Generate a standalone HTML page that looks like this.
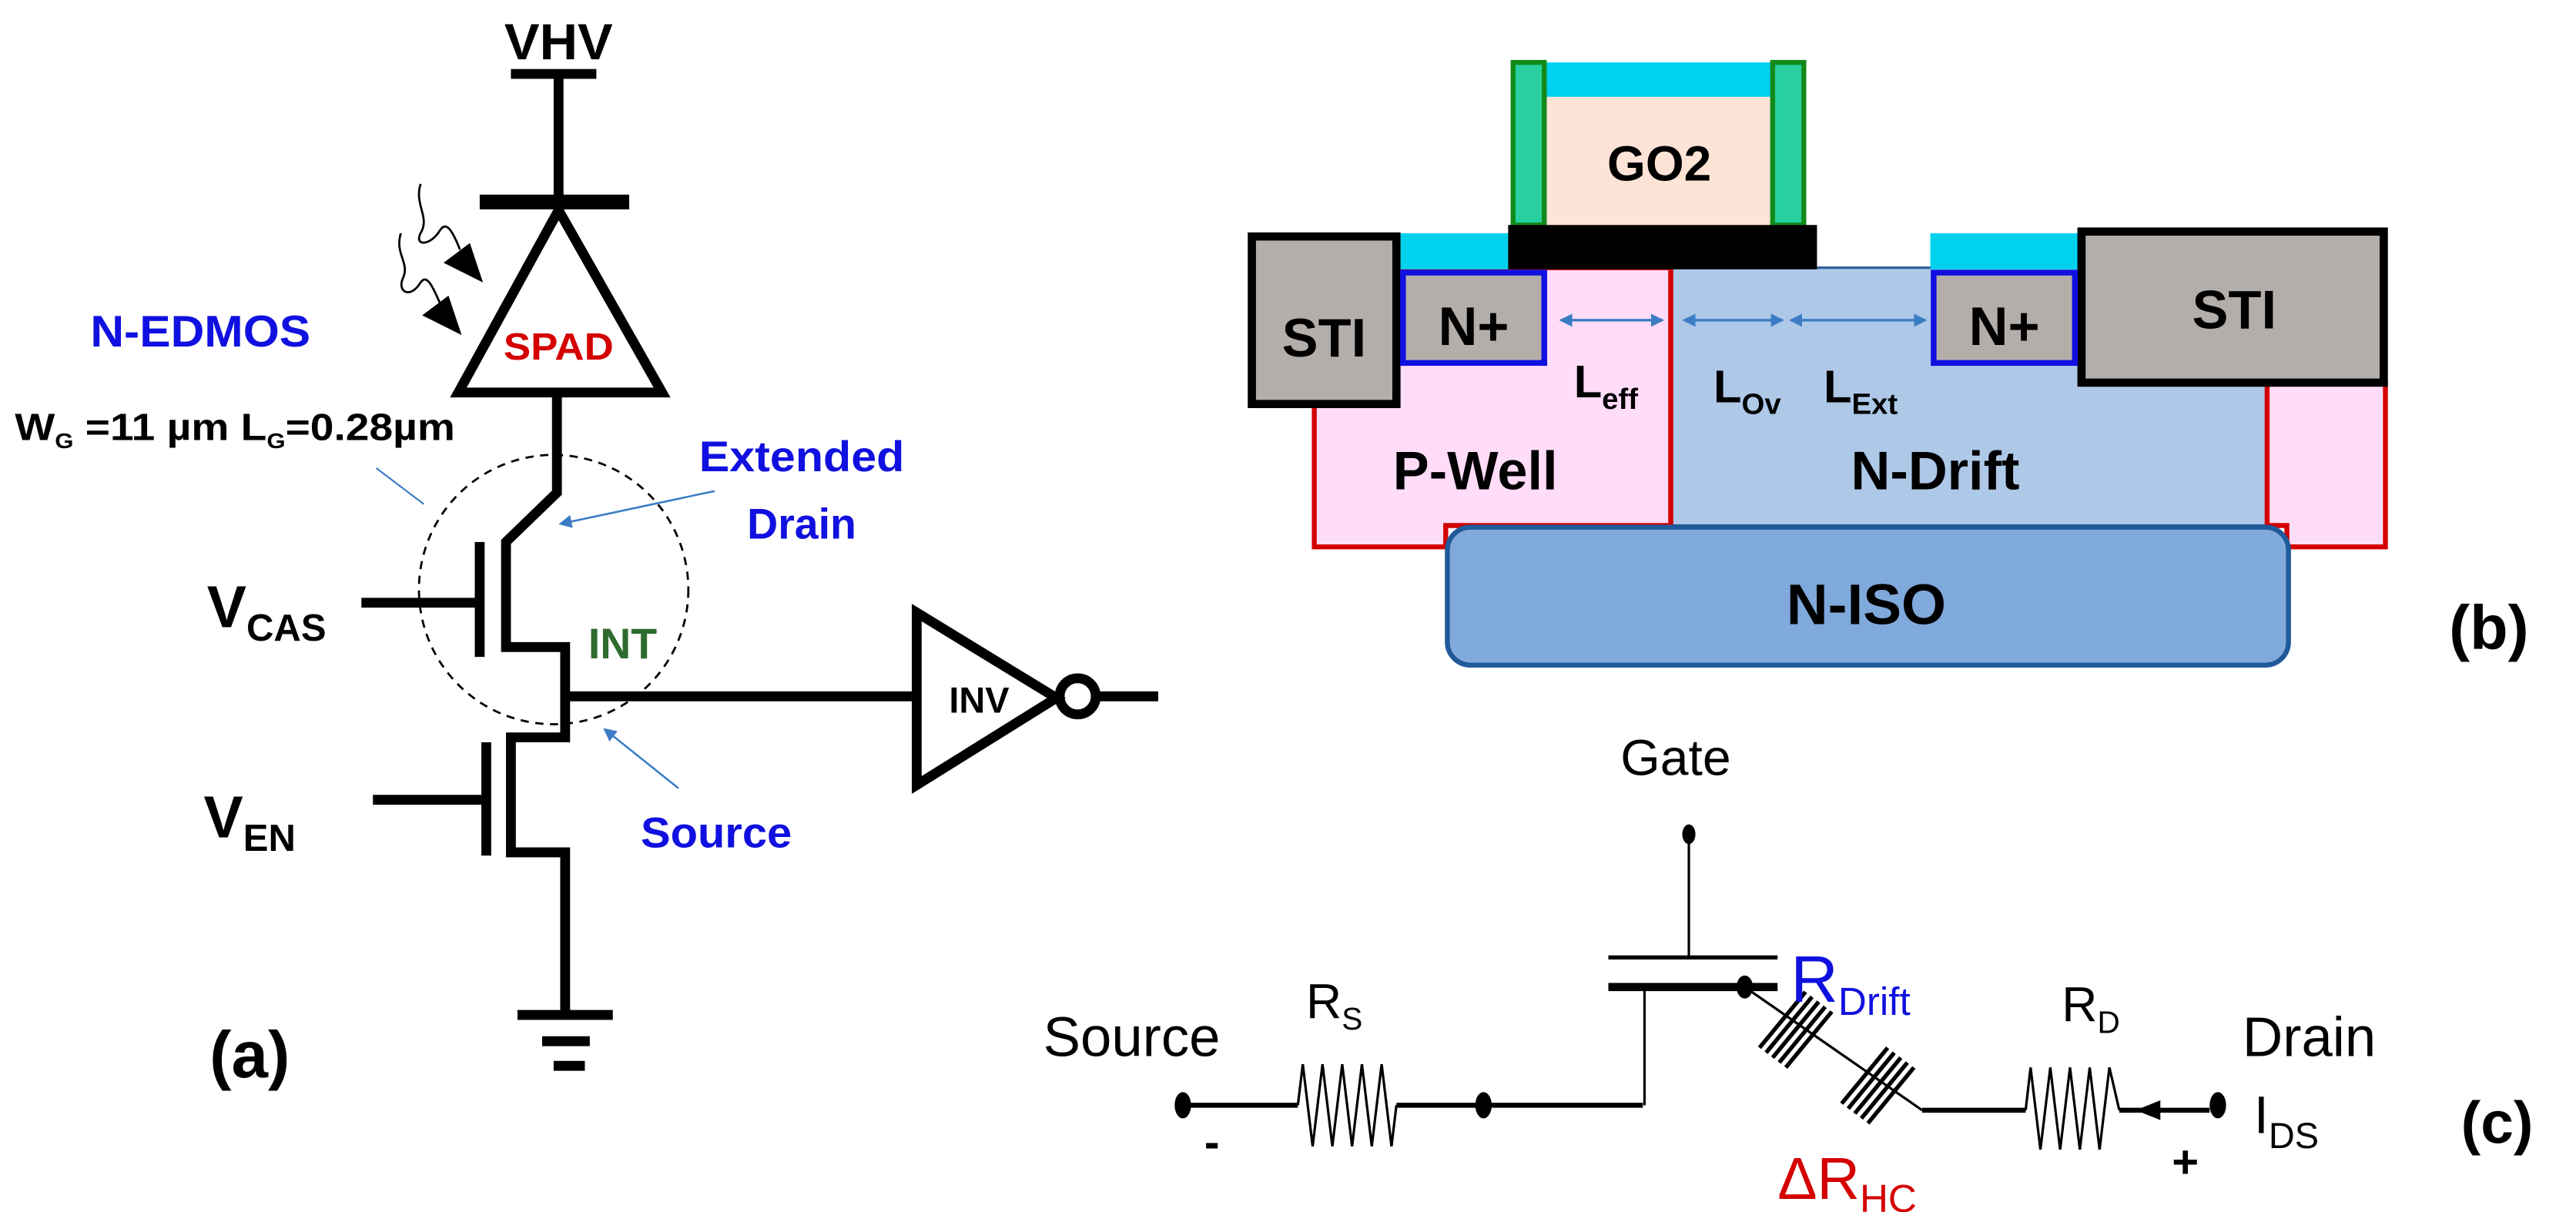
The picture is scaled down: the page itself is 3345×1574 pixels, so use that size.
<!DOCTYPE html>
<html><head><meta charset="utf-8"><style>html,body{margin:0;padding:0;background:#fff}svg{display:block}</style></head>
<body>
<svg width="3345" height="1574" viewBox="0 0 1568 738" preserveAspectRatio="none" xmlns="http://www.w3.org/2000/svg" font-family="Liberation Sans, sans-serif">
<defs>
<marker id="ab" markerWidth="8" markerHeight="8" refX="7" refY="4" orient="auto" markerUnits="userSpaceOnUse"><path d="M0,0 L8,4 L0,8 z" fill="#3b7cc4"/></marker>
</defs>
<!-- Panel (a) -->
<g font-weight="bold">
<text x="340" y="36" font-size="31" text-anchor="middle" textLength="66" lengthAdjust="spacingAndGlyphs">VHV</text>
<g stroke="#000" stroke-width="6" fill="none" stroke-linecap="butt">
<line x1="311" y1="45" x2="363" y2="45"/>
<line x1="340" y1="45" x2="340" y2="120"/>
<line x1="292" y1="123" x2="383" y2="123" stroke-width="9"/>
<path d="M340,128 L279,239 L403,239 Z" stroke-linejoin="miter"/>
<path d="M339,241 L339,300 L308,330 L308,394 L344,394 L344,449 L311,449 L311,519 L344,519 L344,617"/>
<line x1="292" y1="330" x2="292" y2="400"/>
<line x1="220" y1="367" x2="289" y2="367"/>
<line x1="296" y1="452" x2="296" y2="521"/>
<line x1="227" y1="487" x2="293" y2="487"/>
<line x1="344" y1="424" x2="555" y2="424"/>
<path d="M558,373 L558,478 L643,425 Z"/>
<circle cx="656" cy="424" r="11"/>
<line x1="667" y1="424" x2="705" y2="424"/>
<line x1="315" y1="618" x2="373" y2="618"/>
<line x1="330" y1="634" x2="359" y2="634"/>
<line x1="337" y1="649" x2="356" y2="649"/>
</g>
<circle cx="337" cy="359" r="82" fill="none" stroke="#000" stroke-width="1.3" stroke-dasharray="5,4"/>
<!-- light -->
<g fill="none" stroke="#000" stroke-width="1.3">
<path d="M256,112 C252,125 262,132 256,142 C252,150 262,150 268,140 C272,134 276,142 280,152"/>
<path d="M244,142 C240,155 250,160 245,170 C242,178 250,182 256,172 C260,166 264,176 268,185"/>
</g>
<path d="M270,160 L294,172 L286,148 Z" fill="#000"/>
<path d="M257,192 L281,204 L273,180 Z" fill="#000"/>
<text x="340" y="219" font-size="23" fill="#d40000" text-anchor="middle" textLength="67" lengthAdjust="spacingAndGlyphs">SPAD</text>
<text x="122" y="211" font-size="27" fill="#1010e0" text-anchor="middle" textLength="134" lengthAdjust="spacingAndGlyphs">N-EDMOS</text>
<text x="9" y="268" font-size="23" textLength="268" lengthAdjust="spacingAndGlyphs">W<tspan font-size="13" dy="5">G</tspan><tspan dy="-5"> =11 µm L</tspan><tspan font-size="13" dy="5">G</tspan><tspan dy="-5">=0.28µm</tspan></text>
<line x1="229" y1="285" x2="258" y2="307" stroke="#3b7cc4" stroke-width="1"/>
<text x="488" y="287" font-size="26" fill="#1010e0" text-anchor="middle" textLength="125" lengthAdjust="spacingAndGlyphs">Extended</text>
<text x="488" y="328" font-size="26" fill="#1010e0" text-anchor="middle">Drain</text>
<line x1="435" y1="299" x2="341" y2="319" stroke="#3b7cc4" stroke-width="1.2" marker-end="url(#ab)"/>
<text x="379" y="401" font-size="26" fill="#2e6b2e" text-anchor="middle">INT</text>
<line x1="413" y1="480" x2="368" y2="444" stroke="#3b7cc4" stroke-width="1.2" marker-end="url(#ab)"/>
<text x="436" y="516" font-size="26" fill="#1010e0" text-anchor="middle" textLength="92" lengthAdjust="spacingAndGlyphs">Source</text>
<text x="596" y="434" font-size="22" text-anchor="middle">INV</text>
<text x="126" y="382" font-size="36">V<tspan font-size="23" dy="8">CAS</tspan></text>
<text x="124" y="510" font-size="36">V<tspan font-size="23" dy="8">EN</tspan></text>
<text x="152" y="656" font-size="40" text-anchor="middle">(a)</text>
</g>
<!-- Panel (b) -->
<g font-weight="bold">
<path d="M800,163 L1017,163 L1017,320 L880,320 L880,333 L800,333 Z" fill="#ffdcf8" stroke="#d40000" stroke-width="3"/>
<rect x="1017" y="163" width="363" height="157" fill="#aec8e8" stroke="#2f5f9a" stroke-width="1.5"/>
<line x1="1017" y1="163" x2="1017" y2="320" stroke="#d40000" stroke-width="3"/>
<path d="M1380,232 L1452,232 L1452,333 L1392,333 L1392,320 L1380,320 Z" fill="#ffdcf8" stroke="#d40000" stroke-width="3"/>
<rect x="881" y="321" width="512" height="84" rx="14" fill="#80a9dc" stroke="#1f5a9a" stroke-width="3"/>
<rect x="852" y="142" width="68" height="22" fill="#00d2ee"/>
<rect x="1175" y="142" width="90" height="22" fill="#00d2ee"/>
<rect x="762" y="144" width="88" height="102" fill="#b4aeab" stroke="#000" stroke-width="5"/>
<rect x="1267" y="141" width="184" height="92" fill="#b4aeab" stroke="#000" stroke-width="5"/>
<rect x="854" y="166" width="86" height="55" fill="#b4aeab" stroke="#1010e0" stroke-width="3.5"/>
<rect x="1177" y="166" width="86" height="55" fill="#b4aeab" stroke="#1010e0" stroke-width="3.5"/>
<rect x="940" y="38" width="138" height="21" fill="#00d2ee"/>
<rect x="940" y="59" width="138" height="79" fill="#fde4d6"/>
<rect x="921" y="38" width="19" height="99" fill="#28d0a0" stroke="#128a1a" stroke-width="3"/>
<rect x="1079" y="38" width="19" height="99" fill="#28d0a0" stroke="#128a1a" stroke-width="3"/>
<rect x="918" y="137" width="188" height="27" fill="#000"/>
<text x="1010" y="110" font-size="30" text-anchor="middle">GO2</text>
<text x="806" y="217" font-size="33" text-anchor="middle">STI</text>
<text x="1360" y="200" font-size="33" text-anchor="middle">STI</text>
<text x="897" y="210" font-size="33" text-anchor="middle">N+</text>
<text x="1220" y="210" font-size="33" text-anchor="middle">N+</text>
<g stroke="#3b7cc4" stroke-width="1.5" marker-end="url(#ab)">
<line x1="950" y1="195" x2="1012" y2="195"/>
<line x1="1012" y1="195" x2="950" y2="195"/>
<line x1="1025" y1="195" x2="1085" y2="195"/>
<line x1="1085" y1="195" x2="1025" y2="195"/>
<line x1="1090" y1="195" x2="1172" y2="195"/>
<line x1="1172" y1="195" x2="1090" y2="195"/>
</g>
<text x="958" y="242" font-size="28">L<tspan font-size="18" dy="7">eff</tspan></text>
<text x="1043" y="245" font-size="28">L<tspan font-size="18" dy="7">Ov</tspan></text>
<text x="1110" y="245" font-size="28">L<tspan font-size="18" dy="7">Ext</tspan></text>
<text x="898" y="298" font-size="33" text-anchor="middle">P-Well</text>
<text x="1178" y="298" font-size="33" text-anchor="middle">N-Drift</text>
<text x="1136" y="380" font-size="35" text-anchor="middle">N-ISO</text>
<text x="1515" y="395" font-size="38" text-anchor="middle">(b)</text>
</g>
<!-- Panel (c) -->
<g>
<text x="1020" y="472" font-size="31" text-anchor="middle">Gate</text>
<line x1="1028" y1="508" x2="1028" y2="583" stroke="#000" stroke-width="1.5"/>
<ellipse cx="1028" cy="508" rx="4" ry="6" fill="#000"/>
<line x1="979" y1="583" x2="1082" y2="583" stroke="#000" stroke-width="2.5"/>
<line x1="979" y1="601" x2="1082" y2="601" stroke="#000" stroke-width="5"/>
<line x1="1001" y1="601" x2="1001" y2="673" stroke="#000" stroke-width="1.5"/>
<ellipse cx="1062" cy="601" rx="5" ry="7" fill="#000"/>
<g stroke="#000" stroke-width="3" fill="none">
<line x1="722" y1="673" x2="790" y2="673"/>
<line x1="850" y1="673" x2="1000" y2="673"/>
<polyline stroke-width="1.5" points="790,673 793,648 799,698 805,648 811,698 817,648 823,698 829,648 835,698 841,648 847,698 850,673"/>
<line x1="1062" y1="601" x2="1170" y2="676" stroke-width="1.5"/>
<line x1="1170" y1="676" x2="1233" y2="676"/>
<polyline stroke-width="1.5" points="1233,676 1236,650 1242,700 1248,650 1254,700 1260,650 1266,700 1272,650 1278,700 1284,650 1290,676"/>
<line x1="1290" y1="676" x2="1345" y2="676"/>
</g>
<g stroke="#000" stroke-width="2.5">
<line x1="1071" y1="638" x2="1099" y2="604"/><line x1="1075" y1="641" x2="1103" y2="607"/><line x1="1079" y1="644" x2="1107" y2="610"/><line x1="1083" y1="647" x2="1111" y2="613"/><line x1="1087" y1="650" x2="1115" y2="616"/>
<line x1="1121" y1="672" x2="1149" y2="638"/><line x1="1125" y1="675" x2="1153" y2="641"/><line x1="1129" y1="678" x2="1157" y2="644"/><line x1="1133" y1="681" x2="1161" y2="647"/><line x1="1137" y1="684" x2="1165" y2="650"/>
</g>
<path d="M1300,676 L1315,670 L1315,682 Z" fill="#000"/>
<ellipse cx="720" cy="673" rx="5" ry="8" fill="#000"/>
<ellipse cx="903" cy="673" rx="5" ry="8" fill="#000"/>
<ellipse cx="1350" cy="673" rx="5" ry="8" fill="#000"/>
<text x="635" y="643" font-size="34">Source</text>
<text x="795" y="620" font-size="30">R<tspan font-size="19" dy="7">S</tspan></text>
<text x="1090" y="610" font-size="40" fill="#1010e0">R<tspan font-size="24" dy="8">Drift</tspan></text>
<text x="1255" y="622" font-size="30">R<tspan font-size="19" dy="7">D</tspan></text>
<text x="1365" y="643" font-size="34">Drain</text>
<text x="1372" y="690" font-size="32">I<tspan font-size="22" dy="9">DS</tspan></text>
<text x="1082" y="730" font-size="36" fill="#d40000">ΔR<tspan font-size="24" dy="8">HC</tspan></text>
<text x="733" y="705" font-size="28" font-weight="bold">-</text>
<text x="1322" y="717" font-size="28" font-weight="bold">+</text>
<text x="1520" y="696" font-size="36" font-weight="bold" text-anchor="middle">(c)</text>
</g>
</svg>
</body></html>
